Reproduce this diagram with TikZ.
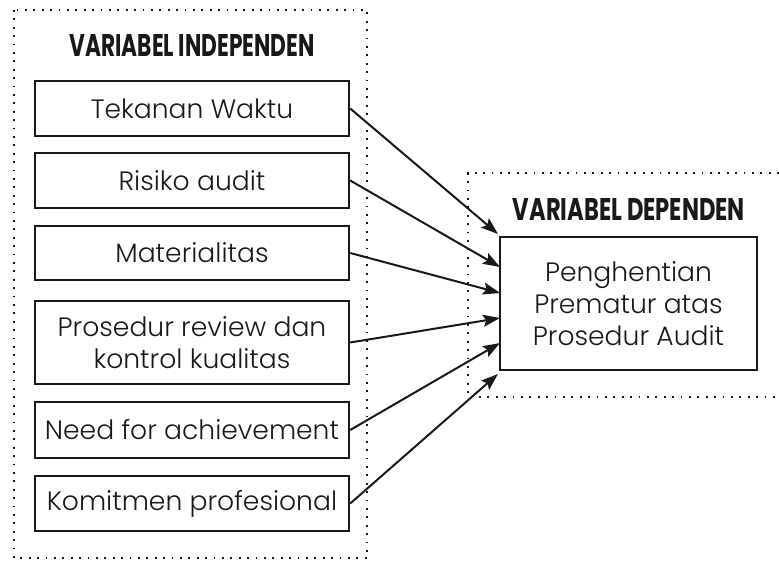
\documentclass[tikz,border=0pt]{standalone}
\usepackage{fontspec}
\setmainfont{Poppins}[UprightFont=* Light, BoldFont=* Bold]
\usetikzlibrary{arrows.meta}
\tikzset{
  varbox/.style={draw=black!90, line width=2.4pt, minimum width=314pt, inner sep=0pt, align=center,
    font=\fontsize{26.6}{32}\selectfont, text=black!90},
  depbox/.style={draw=black!90, line width=2.4pt, minimum width=257pt, minimum height=133pt, inner sep=0pt, align=center,
    font=\fontsize{26.6}{32}\selectfont, text=black!90},
  dotframe/.style={line width=1.8pt, dash pattern=on 1.8pt off 6.6pt, black!90},
  heading/.style={inner sep=0pt, text=black!90},
  arr/.style={line width=2pt, black!90, -{Stealth[length=17pt,width=12pt,inset=3pt]}}
}
\begin{document}
\begin{tikzpicture}[x=1pt,y=-1pt]
\useasboundingbox (0,0) rectangle (779,561);
% frames
\draw[dotframe] (14,10) rectangle (367,558);
\draw[dotframe] (779,173) -- (468,173) -- (468,397) -- (779,397);
% headings
\node[heading] (hind) at (192,46) {\resizebox{245pt}{22pt}{\bfseries VARIABEL INDEPENDEN}};
\node[heading] (hdep) at (629,210) {\resizebox{232pt}{22pt}{\bfseries VARIABEL DEPENDEN}};
% left boxes
\node[varbox, minimum height=55pt] (b1) at (192,108.5) {Tekanan Waktu};
\node[varbox, minimum height=55pt] (b2) at (192,180.5) {Risiko audit};
\node[varbox, minimum height=54pt] (b3) at (192,253) {Materialitas};
\node[varbox, minimum height=83pt] (b4) at (192,342.5) {Prosedur review dan\\kontrol kualitas};
\node[varbox, minimum height=56pt] (b5) at (192,430) {Need for achievement};
\node[varbox, minimum height=55pt] (b6) at (192,503.5) {Komitmen profesional};
% right box
\node[depbox] (dep) at (628.5,303.5) {Penghentian\\Prematur atas\\Prosedur Audit};
% arrow targets
\coordinate (t1) at (498,234);
\coordinate (t2) at (500,267);
\coordinate (t3) at (500,293);
\coordinate (t4) at (500,318);
\coordinate (t5) at (500,343);
\coordinate (t6) at (498,374);
\draw[arr] (b1.east) -- (t1);
\draw[arr] (b2.east) -- (t2);
\draw[arr] (b3.east) -- (t3);
\draw[arr] (b4.east) -- (t4);
\draw[arr] (b5.east) -- (t5);
\draw[arr] (b6.east) -- (t6);
\end{tikzpicture}
\end{document}
